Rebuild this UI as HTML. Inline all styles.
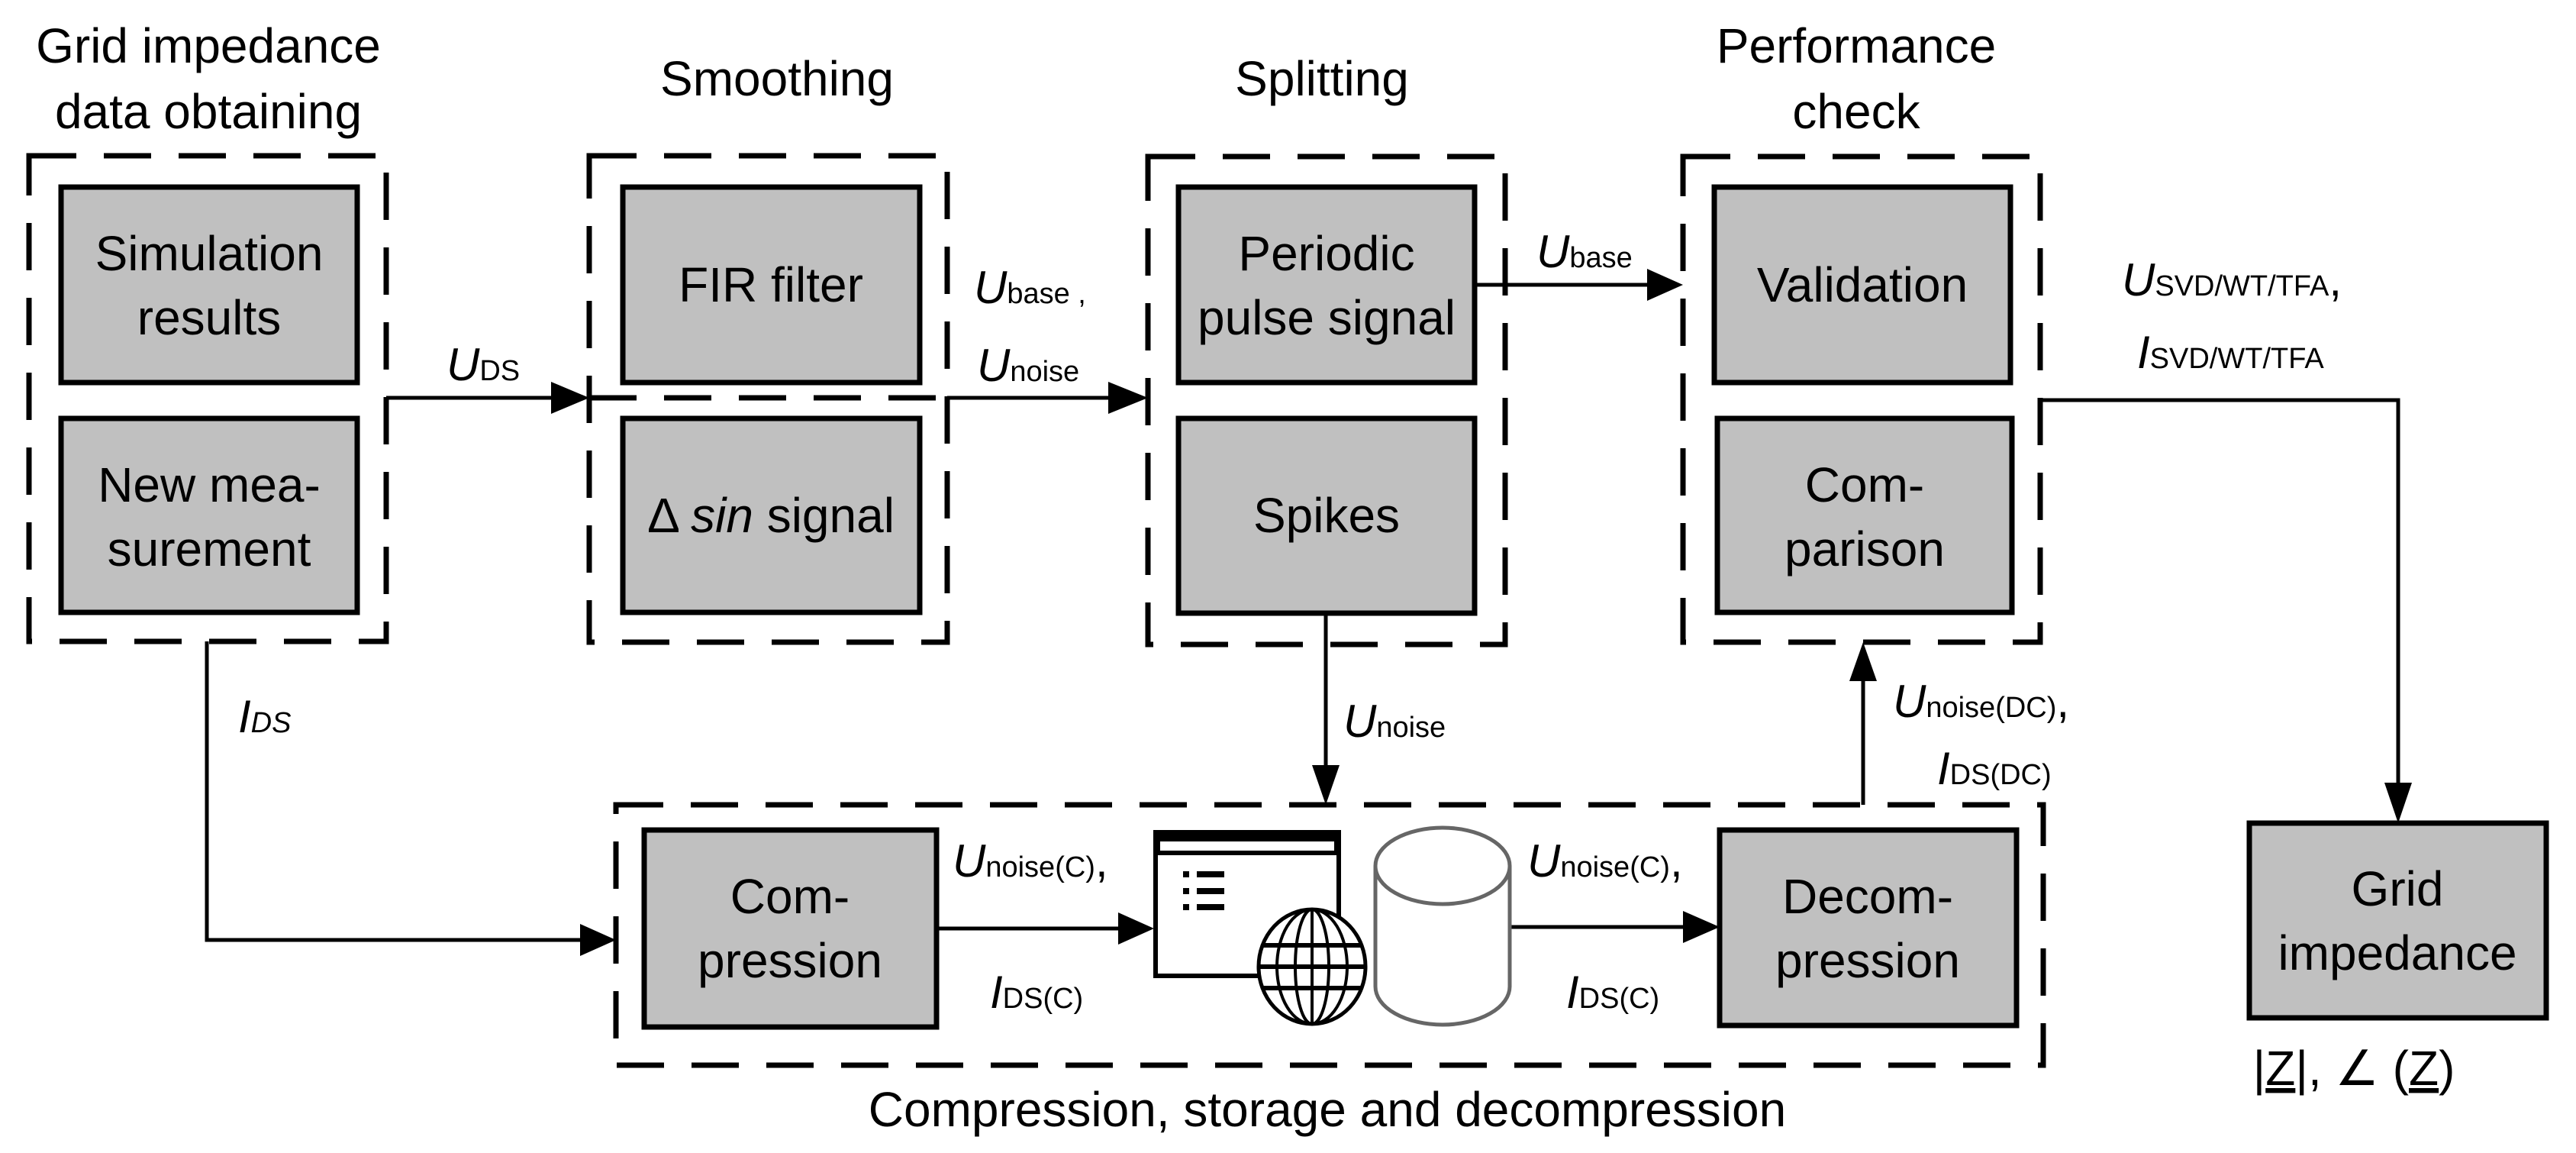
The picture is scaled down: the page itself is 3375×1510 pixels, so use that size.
<!DOCTYPE html>
<html><head><meta charset="utf-8"><style>
html,body{margin:0;padding:0;background:#fff;}
svg{display:block;}
text{font-family:"Liberation Sans",sans-serif;fill:#000;}
</style></head><body>
<svg width="3375" height="1510" viewBox="0 0 3375 1510" xmlns="http://www.w3.org/2000/svg">
<g fill="none" stroke="#000" stroke-width="7" stroke-dasharray="62,36">
<rect x="38" y="204" width="468" height="636"/>
<rect x="772" y="204" width="469" height="637"/>
<rect x="1504" y="205" width="468" height="639"/>
<rect x="2205" y="205" width="468" height="636"/>
<rect x="807" y="1054" width="1870" height="341"/>
<line x1="772" y1="521" x2="1241" y2="521"/>
</g>
<g fill="#c0c0c0" stroke="#000" stroke-width="7">
<rect x="80" y="245" width="388" height="256"/>
<rect x="80" y="548" width="388" height="254"/>
<rect x="816" y="245" width="389" height="256"/>
<rect x="816" y="548" width="389" height="254"/>
<rect x="1544" y="245" width="388" height="256"/>
<rect x="1544" y="548" width="388" height="255"/>
<rect x="2246" y="245" width="388" height="256"/>
<rect x="2250" y="548" width="386" height="254"/>
<rect x="844" y="1087" width="383" height="258"/>
<rect x="2253" y="1087" width="389" height="256"/>
<rect x="2947" y="1078" width="389" height="255"/>
</g>
<g stroke="#000" stroke-width="5" fill="none">
<line x1="506" y1="521" x2="722" y2="521"/>
<line x1="1241" y1="521" x2="1452" y2="521"/>
<line x1="1932" y1="373" x2="2158" y2="373"/>
<polyline points="2673,524 3142,524 3142,1030"/>
<line x1="1737" y1="803" x2="1737" y2="1005"/>
<line x1="2441" y1="1054" x2="2441" y2="888"/>
<polyline points="271,840 271,1231 760,1231"/>
<line x1="1227" y1="1216" x2="1465" y2="1216"/>
<line x1="1978" y1="1214" x2="2205" y2="1214"/>
</g>
<g fill="#000">
<polygon points="772,521 722,500 722,542"/>
<polygon points="1504,521 1452,500 1452,542"/>
<polygon points="2205,373 2158,352 2158,394"/>
<polygon points="3142,1078 3124,1025 3160,1025"/>
<polygon points="1737,1054 1719,1002 1755,1002"/>
<polygon points="2441,841 2423,892 2459,892"/>
<polygon points="807,1231 760,1210 760,1252"/>
<polygon points="1512,1216 1465,1195 1465,1237"/>
<polygon points="2253,1214 2205,1193 2205,1235"/>
</g>
<g stroke="#000" fill="#fff">
<rect x="1514" y="1090" width="240" height="188" stroke-width="6"/>
<rect x="1514" y="1090" width="240" height="30" fill="#000" stroke="none"/>
<rect x="1520" y="1102" width="228" height="12" fill="#fff" stroke="none"/>
</g>
<g fill="#000">
<rect x="1550" y="1141" width="8" height="8"/><rect x="1568" y="1141" width="36" height="8"/>
<rect x="1550" y="1163" width="8" height="8"/><rect x="1568" y="1163" width="36" height="8"/>
<rect x="1550" y="1184" width="8" height="8"/><rect x="1568" y="1184" width="36" height="8"/>
</g>
<g stroke="#000" stroke-width="5" fill="#fff">
<ellipse cx="1719" cy="1266" rx="70" ry="75"/>
</g>
<g stroke="#000" stroke-width="4" fill="none">
<ellipse cx="1719" cy="1266" rx="46" ry="75"/>
<ellipse cx="1719" cy="1266" rx="22" ry="75"/>
<line x1="1719" y1="1191" x2="1719" y2="1341"/>
</g>
<g stroke="#000" stroke-width="6">
<line x1="1653" y1="1238" x2="1785" y2="1238"/>
<line x1="1649" y1="1266" x2="1789" y2="1266"/>
<line x1="1653" y1="1294" x2="1785" y2="1294"/>
</g>
<g stroke="#666" stroke-width="5" fill="#fff">
<path d="M1802,1134 L1802,1292 A88,50 0 0 0 1978,1292 L1978,1134"/>
<ellipse cx="1890" cy="1134" rx="88" ry="50"/>
</g>
<g font-size="64" text-anchor="middle">
<text x="273" y="82">Grid impedance</text>
<text x="273" y="168">data obtaining</text>
<text x="1018" y="125">Smoothing</text>
<text x="1732" y="125">Splitting</text>
<text x="2432" y="82">Performance</text>
<text x="2432" y="168">check</text>
<text x="274" y="354">Simulation</text>
<text x="274" y="438">results</text>
<text x="274" y="657">New mea-</text>
<text x="274" y="741">surement</text>
<text x="1010" y="395">FIR filter</text>
<text x="1010" y="697">Δ <tspan font-style="italic">sin</tspan> signal</text>
<text x="1738" y="354">Periodic</text>
<text x="1738" y="438">pulse signal</text>
<text x="1738" y="697">Spikes</text>
<text x="2440" y="395">Validation</text>
<text x="2443" y="657">Com-</text>
<text x="2443" y="741">parison</text>
<text x="1035" y="1196">Com-</text>
<text x="1035" y="1280">pression</text>
<text x="2447" y="1196">Decom-</text>
<text x="2447" y="1280">pression</text>
<text x="3141" y="1186">Grid</text>
<text x="3141" y="1270">impedance</text>
<text x="1739" y="1475">Compression, storage and decompression</text>
<text x="3084" y="1421">|<tspan text-decoration="underline">Z</tspan>|, ∠ (<tspan text-decoration="underline">Z</tspan>)</text>
</g>
<g font-size="60">
<text x="585" y="498"><tspan font-style="italic">U</tspan><tspan font-size="38">DS</tspan></text>
<text x="1276" y="397"><tspan font-style="italic">U</tspan><tspan font-size="38">base ,</tspan></text>
<text x="1280" y="499"><tspan font-style="italic">U</tspan><tspan font-size="38">noise</tspan></text>
<text x="2013" y="350"><tspan font-style="italic">U</tspan><tspan font-size="38">base</tspan></text>
<text x="2780" y="387"><tspan font-style="italic">U</tspan><tspan font-size="38">SVD/WT/TFA</tspan>,</text>
<text x="2800" y="482"><tspan font-style="italic">I</tspan><tspan font-size="38">SVD/WT/TFA</tspan></text>
<text x="312" y="959"><tspan font-style="italic">I</tspan><tspan font-size="38" font-style="italic">DS</tspan></text>
<text x="1760" y="965"><tspan font-style="italic">U</tspan><tspan font-size="38">noise</tspan></text>
<text x="2480" y="939"><tspan font-style="italic">U</tspan><tspan font-size="38">noise(DC)</tspan>,</text>
<text x="2538" y="1027"><tspan font-style="italic">I</tspan><tspan font-size="38">DS(DC)</tspan></text>
<text x="1248" y="1148"><tspan font-style="italic">U</tspan><tspan font-size="38">noise(C)</tspan>,</text>
<text x="1297" y="1320"><tspan font-style="italic">I</tspan><tspan font-size="38">DS(C)</tspan></text>
<text x="2001" y="1148"><tspan font-style="italic">U</tspan><tspan font-size="38">noise(C)</tspan>,</text>
<text x="2052" y="1320"><tspan font-style="italic">I</tspan><tspan font-size="38">DS(C)</tspan></text>
</g>
</svg>
</body></html>
